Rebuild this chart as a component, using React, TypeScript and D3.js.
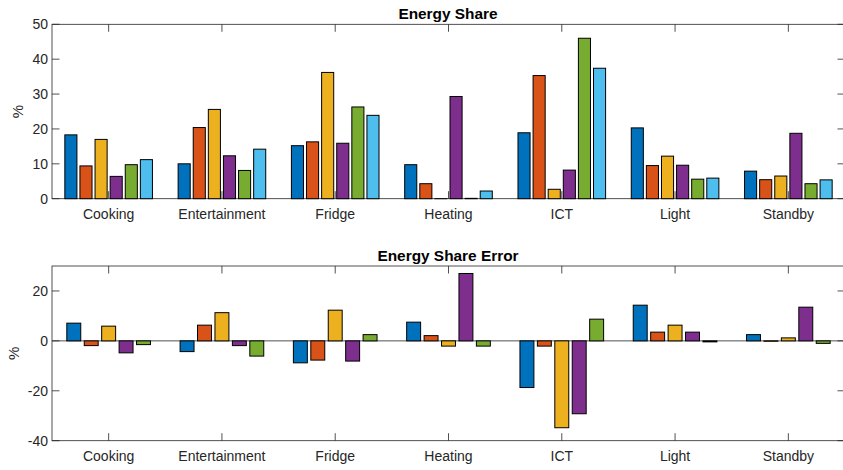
import * as d3 from 'd3';
import React from 'react';

const categories = ['Cooking', 'Entertainment', 'Fridge', 'Heating', 'ICT', 'Light', 'Standby'];

// energy share per category, one array per series (top plot)
const share1 = [18.3, 10.0, 15.2, 9.75, 18.9, 20.3, 7.9];
const share2 = [9.4, 20.4, 16.3, 4.3, 35.3, 9.5, 5.45];
const share3 = [17.0, 25.6, 36.2, 0, 2.7, 12.2, 6.5];
const share4 = [6.4, 12.3, 15.9, 29.3, 8.2, 9.6, 18.75];
const share5 = [9.75, 8.1, 26.3, 0.1, 46.0, 5.6, 4.3];
const share6 = [11.2, 14.2, 23.9, 2.2, 37.4, 5.9, 5.4];

// error per category (bottom plot)
const err1 = [7.1, -4.3, -8.8, 7.5, -18.7, 14.3, 2.5];
const err2 = [-1.9, 6.3, -7.7, 2.1, -2.1, 3.5, -0.15];
const err3 = [5.9, 11.3, 12.3, -2.1, -34.8, 6.3, 1.2];
const err4 = [-4.8, -1.9, -8.1, 27.0, -29.2, 3.5, 13.5];
const err5 = [-1.5, -6.1, 2.5, -2.1, 8.7, -0.4, -1.0];

const shareTicks = [0, 10, 20, 30, 40, 50];
const errTicks = [-40, -20, 0, 20];

const colors = ['#0072BD', '#D95319', '#EDB120', '#7E2F8E', '#77AC30', '#4DBEEE'];

const W = 843;
const H = 470;
const left = 52;
const right = 845;
const font = '"Liberation Sans", Arial, Helvetica, sans-serif';
const axisColor = '#262626';

interface PanelProps {
  title: string;
  series: number[][];
  top: number;
  bottom: number;
  domain: [number, number];
  ticks: number[];
  ylabelX: number;
}

function Panel({ title, series, top, bottom, domain, ticks, ylabelX }: PanelProps) {
  const x = d3.scaleLinear().domain([0.5, categories.length + 0.5]).range([left, right]);
  const y = d3.scaleLinear().domain(domain).range([bottom, top]);
  const n = series.length;
  const groupWidth = Math.min(0.8, n / (n + 1.5));
  const slot = groupWidth / n;
  const barW = slot * 0.8;
  const tickLen = 7.5;
  const y0 = y(Math.max(domain[0], 0));

  return (
    <g>
      {/* ticks (drawn below bars) */}
      {categories.map((c, i) => (
        <g key={c}>
          <line x1={x(i + 1)} x2={x(i + 1)} y1={bottom} y2={bottom - tickLen} stroke={axisColor} strokeWidth={0.8} />
          <line x1={x(i + 1)} x2={x(i + 1)} y1={top} y2={top + tickLen} stroke={axisColor} strokeWidth={0.8} />
          <text x={x(i + 1)} y={bottom + 20} textAnchor="middle" fontSize={14} fill={axisColor} fontFamily={font}>
            {c}
          </text>
        </g>
      ))}
      {ticks.map((t) => (
        <g key={t}>
          <line x1={left} x2={left + tickLen} y1={y(t)} y2={y(t)} stroke={axisColor} strokeWidth={0.8} />
          <line x1={right} x2={right - tickLen} y1={y(t)} y2={y(t)} stroke={axisColor} strokeWidth={0.8} />
          <text x={left - 4} y={y(t)} dy="0.35em" textAnchor="end" fontSize={14} fill={axisColor} fontFamily={font}>
            {t}
          </text>
        </g>
      ))}
      <rect x={left} y={top} width={right - left} height={bottom - top} fill="none" stroke={axisColor} strokeWidth={0.8} />
      {domain[0] < 0 && <line x1={left} x2={right} y1={y0} y2={y0} stroke={axisColor} strokeWidth={0.8} />}
      {/* bars */}
      {series.map((vals, s) =>
        vals.map((v, i) => {
          const cx = i + 1 - groupWidth / 2 + slot * (s + 0.5);
          const x0 = x(cx - barW / 2);
          const x1 = x(cx + barW / 2);
          const ya = y(Math.max(v, 0));
          const yb = y(Math.min(v, 0));
          return (
            <rect
              key={`${s}-${i}`}
              x={x0}
              y={ya}
              width={x1 - x0}
              height={Math.max(yb - ya, 0.01)}
              fill={colors[s]}
              stroke="#000"
              strokeWidth={1}
            />
          );
        })
      )}
      <text
        x={(left + right) / 2 - 0.5}
        y={top - 5.5}
        textAnchor="middle"
        fontSize={15.4}
        fontWeight="bold"
        fill="#000"
        fontFamily={font}
      >
        {title}
      </text>
      <text
        transform={`translate(${ylabelX},${(top + bottom) / 2}) rotate(-90)`}
        textAnchor="middle"
        fontSize={15}
        fill={axisColor}
        fontFamily={font}
      >
        %
      </text>
    </g>
  );
}

export default function App() {
  return (
    <div style={{ position: 'absolute', left: 0, top: 0 }}>
      <svg width={W} height={H} style={{ display: 'block', background: '#fff' }}>
        <Panel
          title="Energy Share"
          series={[share1, share2, share3, share4, share5, share6]}
          top={24.3}
          bottom={198.7}
          domain={[0, 50]}
          ticks={shareTicks}
          ylabelX={23}
        />
        <Panel
          title="Energy Share Error"
          series={[err1, err2, err3, err4, err5]}
          top={266}
          bottom={440.7}
          domain={[-40, 30]}
          ticks={errTicks}
          ylabelX={19}
        />
      </svg>
    </div>
  );
}
